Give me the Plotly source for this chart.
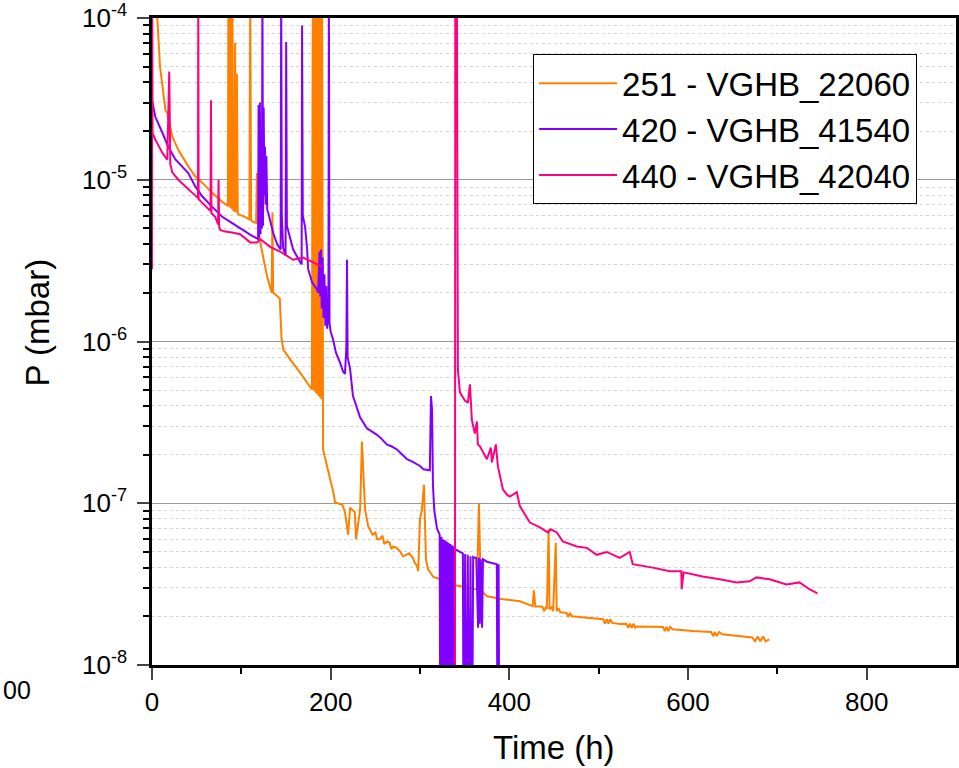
import plotly.graph_objects as go

# ---- data (time in h, pressure in mbar) ----
t_251 = [3, 5.9, 9, 13, 15, 17, 20.5, 22.7, 29.4, 40.6, 48.4, 56.2, 67.4, 78.6,
         85, 85.5, 86.5, 87, 88, 88.5, 89.5, 90, 91, 92.5, 93, 94, 95, 96, 97,
         101, 104, 109, 110, 111, 113, 116.5, 117.5, 119, 124, 129, 134, 134.8, 135.6,
         140, 143, 145, 147, 155, 166, 179,
         180, 180.7, 181.5, 182.2, 183, 183.7, 184.5, 185.2, 186, 186.7, 187.5, 188.2, 189, 189.7, 190.4,
         191.5, 194, 197, 203, 205, 213, 216, 219.5, 221.7, 227, 228.4, 233, 235, 238.5,
         242, 247, 250, 252, 255, 258, 260, 263, 266, 268, 270, 274, 278, 281, 285, 288,
         292, 294, 296.6, 298, 300, 302, 304.4, 306.7, 309, 315, 322, 341, 363.7, 366, 368,
         375, 393, 412, 426, 427.5, 429, 437, 439, 441, 442, 444, 445, 447, 449, 452, 453,
         455, 457, 464, 466, 468, 470, 487, 505, 507, 509, 511, 513, 515, 524, 531, 533,
         535, 537, 539, 541, 543, 572, 574, 576, 578, 580, 583, 586, 605, 626, 628, 630,
         632, 635, 638, 672, 675, 678, 681, 684, 687, 691]
p_251 = [1.3e-4, 1.0e-4, 5e-5, 3.4e-5, 2.7e-5, 2.6e-5, 2.1e-5, 1.85e-5, 1.53e-5, 1.21e-5, 1.05e-5, 9.6e-6, 8.3e-6, 7.3e-6,
         6.9e-6, 1.5e-4, 6.8e-6, 1.5e-4, 6.7e-6, 1.5e-4, 6.6e-6, 1.5e-4, 6.5e-6, 6.4e-6, 7e-5, 6.3e-6, 4.5e-5, 6.2e-6, 6.1e-6,
         6.0e-6, 5.9e-6, 5.7e-6, 1.5e-4, 5.6e-6, 5.5e-6, 5.4e-6, 1.1e-5, 4.7e-6, 3.5e-6, 2.5e-6, 2.0e-6, 6.3e-6, 2.0e-6,
         1.9e-6, 1.85e-6, 1.05e-6, 8.9e-7, 7.7e-7, 6.4e-7, 5.05e-7,
         1.5e-4, 5e-7, 1.5e-4, 4.9e-7, 1.5e-4, 4.8e-7, 1.5e-4, 4.7e-7, 1.5e-4, 4.6e-7, 1.5e-4, 4.5e-7, 1.5e-4, 4.4e-7, 1.5e-4,
         2.15e-7, 1.86e-7, 1.6e-7, 1.17e-7, 1.01e-7, 9.8e-8, 8.8e-8, 6.4e-8, 9.4e-8, 8.8e-8, 6.0e-8, 9.2e-8, 2.41e-7, 9.2e-8,
         7.2e-8, 6.4e-8, 6.6e-8, 6.0e-8, 6.0e-8, 6.3e-8, 5.6e-8, 5.8e-8, 5.7e-8, 5.2e-8, 5.4e-8, 5.3e-8, 5.0e-8, 4.7e-8, 4.8e-8, 4.9e-8,
         4.6e-8, 4.3e-8, 4.1e-8, 3.8e-8, 8e-8, 9e-8, 1.3e-7, 4.5e-8, 3.9e-8, 3.5e-8, 3.4e-8, 3.1e-8, 2.94e-8, 1.0e-7, 2.9e-8,
         2.66e-8, 2.55e-8, 2.48e-8, 2.31e-8, 2.9e-8, 2.3e-8, 2.3e-8, 2.15e-8, 2.3e-8, 2.21e-8, 6.9e-8, 2.2e-8, 2.3e-8, 2.15e-8, 5.7e-8, 2.15e-8,
         2.25e-8, 2.12e-8, 2.1e-8, 1.98e-8, 2.1e-8, 2.0e-8, 1.97e-8, 1.92e-8, 1.8e-8, 1.92e-8, 1.8e-8, 1.92e-8, 1.82e-8, 1.79e-8, 1.8e-8, 1.7e-8,
         1.8e-8, 1.7e-8, 1.8e-8, 1.7e-8, 1.73e-8, 1.72e-8, 1.62e-8, 1.72e-8, 1.62e-8, 1.72e-8, 1.66e-8, 1.66e-8, 1.62e-8, 1.6e-8, 1.51e-8, 1.6e-8,
         1.51e-8, 1.6e-8, 1.55e-8, 1.48e-8, 1.4e-8, 1.5e-8, 1.4e-8, 1.5e-8, 1.4e-8, 1.44e-8]

t_420 = [0, 3.7, 11.5, 18.2, 26, 34, 40.6, 48.4, 56.2, 67.4, 78.6, 89.8, 101, 112, 118.8,
         119.3, 120, 120.8, 121.5, 122.3, 123, 123.6, 124.3, 125, 125.8, 126.5, 127.3, 128, 129,
         130, 135.6, 140, 144, 144.6, 145.3, 146.8, 149.5, 150.2, 151, 158, 165.8, 167.5, 168, 168.8,
         171.4, 173.7, 174.8, 179.2, 184.8,
         186, 187.5, 188.3, 189.2, 190, 191, 192, 193, 194, 195, 196, 197.5, 198, 198.7, 200,
         202.7, 206, 210.5, 214, 216, 217.5, 218.3, 219, 221.7, 225, 232.9, 240.7, 245, 251.9,
         257, 263.1, 268, 274.2, 280, 285.4, 292, 300, 304, 311, 312.3, 313.5, 314.5, 316, 319, 322,
         323, 324, 325, 326, 327, 328, 329, 330, 331, 332, 333, 334, 335, 336, 337, 338, 339,
         348, 349, 350.5, 352, 353.5, 355, 356.5, 358, 359.5, 361,
         363, 365, 366, 367, 368, 369.5, 370.5, 375, 386, 387, 388, 389]
p_420 = [3.1e-5, 2.45e-5, 1.96e-5, 1.6e-5, 1.34e-5, 1.2e-5, 1.1e-5, 9.1e-6, 7.9e-6, 6.8e-6, 5.9e-6, 5.4e-6, 4.9e-6, 4.5e-6, 4.3e-6,
         2.9e-5, 4.4e-6, 3.0e-5, 4.6e-6, 2.0e-5, 5e-6, 1.5e-4, 5.2e-6, 2.8e-5, 8e-6, 1.6e-5, 7e-6, 1.4e-5, 6.5e-6,
         6.3e-6, 4.7e-6, 4.0e-6, 3.7e-6, 1.5e-4, 6e-6, 3.8e-6, 3.4e-6, 7.1e-5, 5.2e-6, 3.7e-6, 3.1e-6, 3.0e-6, 9e-5, 6e-6,
         5.1e-6, 3.7e-6, 2.8e-6, 2.32e-6, 2.1e-6,
         2.0e-6, 3.6e-6, 1.9e-6, 3.7e-6, 1.6e-6, 3.3e-6, 1.4e-6, 2.6e-6, 1.25e-6, 2.2e-6, 1.2e-6, 1.5e-6, 1.5e-4, 1.3e-6, 1.15e-6,
         1.03e-6, 8.5e-7, 7.4e-7, 6.5e-7, 6.3e-7, 9e-7, 3.2e-6, 8e-7, 6.8e-7, 4.6e-7, 3.4e-7, 2.9e-7, 2.8e-7, 2.65e-7,
         2.5e-7, 2.3e-7, 2.25e-7, 2.15e-7, 2.0e-7, 1.87e-7, 1.8e-7, 1.7e-7, 1.62e-7, 1.6e-7, 4.6e-7, 3.8e-7, 1.3e-7, 9e-8, 7e-8, 6.4e-8,
         1e-9, 6.2e-8, 1e-9, 6.0e-8, 1e-9, 5.9e-8, 1e-9, 5.8e-8, 1e-9, 5.7e-8, 1e-9, 5.6e-8, 1e-9, 5.5e-8, 1e-9, 5.4e-8, 5.2e-8,
         4.9e-8, 1e-9, 4.85e-8, 1e-9, 4.8e-8, 1e-9, 4.7e-8, 1e-9, 4.65e-8, 4.6e-8,
         4.6e-8, 1.7e-8, 4.6e-8, 1.8e-8, 4.5e-8, 1.7e-8, 4.5e-8, 4.35e-8, 4.2e-8, 1e-9, 4.2e-8, 1e-9]

# gap (None) where the gauge was off
t_440 = [0, 0.3, 0.6, 3.7, 11.5, 17.1, 19.3, 20.5, 22.7, 29.4, 40.6, 48.4, 51.5, 51.8, 52.2, 56.2,
         65.5, 66, 66.6, 70.7, 74, 74.5, 75.2, 76.4, 80.5, 90.9, 98.7, 109.9, 117.7, 121.1, 132.3,
         143.4, 158, 169.1, 180.3, 190.4, None,
         339.1, 339.5, 341.3, 342.4, 344.7, 350.3, 353.6, 355.9, 358.1, 361.4, 363.7, 364.8, 367.1,
         374.9, 379.3, 380.5, 384.9, 387.2, 392.8, 397.3, 400.6, 408.4, 411.8, 417.4, 423, 434.2,
         443.1, 446.4, 453.2, 459.9, 467.7, 475.6, 486.7, 497.9, 509.1, 523.6, 534.8, 538.2, 560.5,
         579.5, 592.5, 592.9, 595.1, 616.4, 635.4, 654.4, 668.9, 676.7, 691.3, 710.3, 724.8, 735.9, 744.9]
p_440 = [2.8e-6, 1.0e-4, 1.95e-5, 1.77e-5, 1.47e-5, 1.33e-5, 4.66e-5, 1.25e-5, 1.11e-5, 1.0e-5, 8.7e-6, 7.9e-6, 7.7e-6, 1.5e-4, 7.6e-6, 7.2e-6,
         6.4e-6, 3.1e-5, 6.2e-6, 5.9e-6, 5.3e-6, 1.0e-5, 5.1e-6, 4.9e-6, 4.8e-6, 4.7e-6, 4.6e-6, 4.1e-6, 4.1e-6, 4.3e-6, 3.85e-6,
         3.6e-6, 3.2e-6, 3.3e-6, 3.1e-6, 2.9e-6, None,
         1e-9, 1.5e-4, 1.5e-4, 6.7e-7, 4.84e-7, 4.32e-7, 4.18e-7, 5.43e-7, 3.25e-7, 2.7e-7, 3.2e-7, 2.31e-7, 2.25e-7,
         1.87e-7, 2.21e-7, 1.79e-7, 2.31e-7, 1.69e-7, 1.22e-7, 1.13e-7, 1.1e-7, 1.17e-7, 9.6e-8, 8.55e-8, 7.6e-8, 7.1e-8,
         6.6e-8, 6.9e-8, 6.6e-8, 5.8e-8, 5.57e-8, 5.4e-8, 5.3e-8, 4.8e-8, 5.0e-8, 4.6e-8, 5.0e-8, 4.2e-8, 4.0e-8,
         3.8e-8, 3.8e-8, 2.94e-8, 3.74e-8, 3.53e-8, 3.39e-8, 3.24e-8, 3.29e-8, 3.48e-8, 3.39e-8, 3.15e-8, 3.24e-8, 2.94e-8, 2.77e-8]

names = ["251 - VGHB_22060", "420 - VGHB_41540", "440 - VGHB_42040"]
colors = ["#FF8000", "#8000FF", "#FF0080"]

x_ticks = [0, 200, 400, 600, 800]
x_minor = [100, 300, 500, 700]
y_ticks = [1e-8, 1e-7, 1e-6, 1e-5, 1e-4]
y_ticktext = ["10<sup>-8</sup>", "10<sup>-7</sup>", "10<sup>-6</sup>", "10<sup>-5</sup>", "10<sup>-4</sup>"]
y_minor = [m * d for d in [1e-8, 1e-7, 1e-6, 1e-5] for m in range(2, 10)]

FONT = "Liberation Sans, Arial, sans-serif"

fig = go.Figure()
for t, p, name, color in zip([t_251, t_420, t_440], [p_251, p_420, p_440], names, colors):
    fig.add_trace(go.Scatter(x=t, y=p, mode="lines", name=name,
                             line=dict(color=color, width=2)))

fig.update_layout(
    width=959, height=768,
    margin=dict(l=152, r=3, t=18, b=103, autoexpand=False),
    paper_bgcolor="white", plot_bgcolor="white",
    font=dict(family=FONT, color="black"),
    showlegend=True,
    legend=dict(x=0.474, y=0.944, xanchor="left", yanchor="top",
                bgcolor="white", bordercolor="black", borderwidth=1,
                font=dict(size=33, family=FONT), itemwidth=78,
                tracegroupgap=0),
    xaxis=dict(range=[0, 900], tickvals=x_ticks, ticks="outside", ticklen=12, tickwidth=2,
               showline=True, linecolor="black", linewidth=2.5, mirror=True,
               showgrid=False, zeroline=False, tickfont=dict(size=26), automargin=False,
               minor=dict(tickvals=x_minor, ticks="outside", ticklen=6, tickwidth=2,
                          tickcolor="black", showgrid=False)),
    yaxis=dict(type="log", range=[-8, -4], tickvals=y_ticks, ticktext=y_ticktext,
               ticks="outside", ticklen=12, tickwidth=2, ticklabelstandoff=5,
               showline=True, linecolor="black", linewidth=2.5, mirror=True,
               showgrid=True, gridcolor="#999999", gridwidth=1, zeroline=False,
               tickfont=dict(size=26), automargin=False,
               minor=dict(tickvals=y_minor, ticks="outside", ticklen=6, tickwidth=2,
                          tickcolor="black", showgrid=True, gridcolor="#d4d4d4",
                          griddash="dot", gridwidth=1)),
    annotations=[
        dict(text="Time (h)", xref="paper", yref="paper", x=0.5, y=-0.128,
             xanchor="center", yanchor="middle", showarrow=False, font=dict(size=33)),
        dict(text="P (mbar)", xref="paper", yref="paper", x=-0.142, y=0.529, textangle=-90,
             xanchor="center", yanchor="middle", showarrow=False, font=dict(size=33)),
        dict(text="00", xref="paper", yref="paper", x=-0.188, y=-0.039,
             xanchor="left", yanchor="middle", showarrow=False, font=dict(size=25)),
    ],
)

# drop the default page margin so the figure sits at the window's top-left corner
fig.write_html("out.html", config={"displayModeBar": False},
               post_script="document.body.style.margin='0';document.body.style.overflow='hidden';")
